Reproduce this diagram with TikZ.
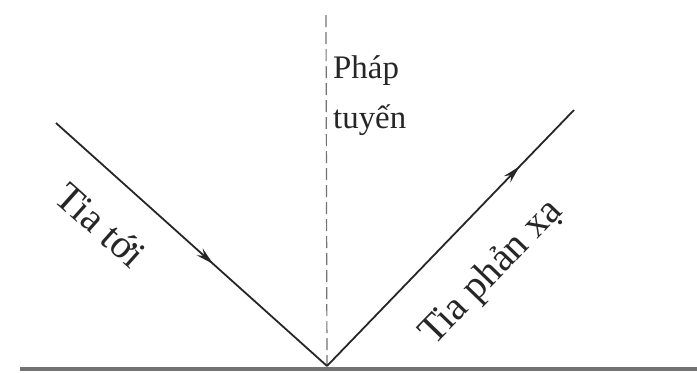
\documentclass[tikz,border=0pt]{standalone}
\usepackage{fontspec}
\setmainfont{Liberation Serif}
\usetikzlibrary{arrows.meta,decorations.markings}
\tikzset{
  ray/.style={line width=1.8pt, draw=black!85},
  midarrow/.style={postaction={decorate},decoration={markings,
     mark=at position #1 with {\arrow{Stealth[length=18bp,width=9bp,inset=6bp]}}}},
  normalline/.style={dash pattern=on 12bp off 5bp, line width=1.2pt, draw=black!55},
  mirror/.style={line width=4pt, draw=black!55},
  lbl/.style={font=\fontsize{33}{34}\selectfont, text=black!85, inner sep=0pt},
  raylbl/.style={font=\fontsize{40}{41}\selectfont, text=black!85, inner sep=0pt},
}
\begin{document}
\begin{tikzpicture}[x=1bp,y=-1bp]
\useasboundingbox (0,0) rectangle (697,372);
\coordinate (I) at (327,366);
\coordinate (A) at (56,123);
\coordinate (B) at (574,110);
\coordinate (Ntop) at (326,15);
\coordinate (ML) at (20,369);
\coordinate (MR) at (697,369);
\draw[mirror] (ML) -- (MR);
\draw[normalline] (Ntop) -- (I);
\draw[ray, midarrow=0.58] (A) -- (I);
\draw[ray, midarrow=0.78] (I) -- (B);
\node[lbl, anchor=base west] (p1) at (333,78) {Pháp};
\node[lbl, anchor=base west] (p2) at (333,128) {tuyến};
\node[raylbl, rotate=-41.8] (t1) at (101,225) {Tia tới};
\node[raylbl, rotate=46] (t2) at (492,273) {Tia phản xạ};
\end{tikzpicture}
\end{document}
